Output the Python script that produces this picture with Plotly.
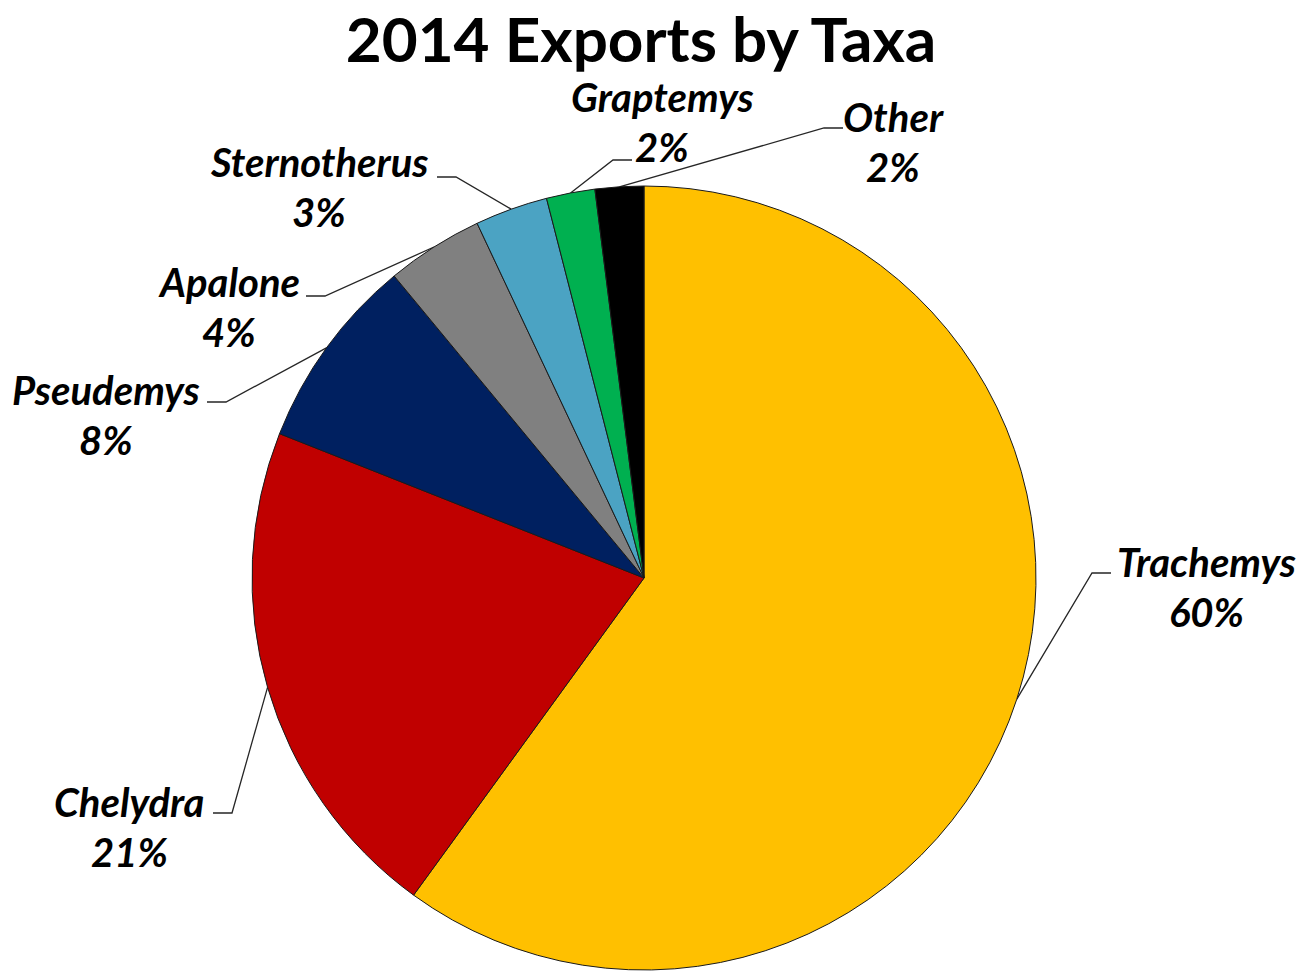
import math
import plotly.graph_objects as go

# Share of 2014 turtle exports by genus (percent)
taxa = ["Trachemys", "Chelydra", "Pseudemys", "Apalone", "Sternotherus", "Graptemys", "Other"]
shares = [60, 21, 8, 4, 3, 2, 2]
slice_colors = ["#FFC000", "#C00000", "#002060", "#808080", "#4BA3C3", "#00B050", "#000000"]

W, H = 1310, 971
CX, CY, R = 644, 578, 392          # pie centre and radius in pixels
FONT = "Lato, 'Open Sans', sans-serif"

# Where each label sits: text centre, end of the horizontal tick of the leader,
# and which side of the label the tick approaches from (+1 from left, -1 from right)
label_layout = {
    "Trachemys":    dict(tx=1206, ty=587, hx=1111, hy=573, side=+1),
    "Chelydra":     dict(tx=129,  ty=827, hx=213,  hy=813, side=-1),
    "Pseudemys":    dict(tx=106,  ty=415, hx=207,  hy=402, side=-1),
    "Apalone":      dict(tx=229,  ty=307, hx=306,  hy=296, side=-1),
    "Sternotherus": dict(tx=319,  ty=187, hx=437,  hy=177, side=-1),
    "Graptemys":    dict(tx=662,  ty=122, hx=632,  hy=160, side=+1),
    "Other":        dict(tx=893,  ty=142, hx=843,  hy=128, side=+1),
}
TICK = 19      # length of the horizontal tick at the label end
LINE_GAP = 25  # half the distance between name and percent lines

fig = go.Figure()

fig.add_trace(go.Pie(
    labels=taxa,
    values=shares,
    sort=False,
    direction="clockwise",
    rotation=0,
    marker=dict(colors=slice_colors, line=dict(color="#1a1a1a", width=1)),
    textinfo="none",
    hoverinfo="label+percent",
    showlegend=False,
    domain=dict(x=[(CX - R) / W, (CX + R) / W],
                y=[(H - CY - R) / H, (H - CY + R) / H]),
))

total = sum(shares)
cum = 0.0
annotations = []
for name, val in zip(taxa, shares):
    mid = (cum + val / 2) / total
    cum += val
    theta = 2 * math.pi * mid
    ax = CX + R * math.sin(theta)
    ay = CY - R * math.cos(theta)
    lay = label_layout[name]
    ex = lay["hx"] - lay["side"] * TICK
    fig.add_trace(go.Scatter(
        x=[ax, ex, lay["hx"]], y=[ay, lay["hy"], lay["hy"]],
        mode="lines", line=dict(color="#262626", width=1.3),
        hoverinfo="skip", showlegend=False,
    ))
    pct = f"{round(val / total * 100)}%"
    for txt, dy in ((name, -LINE_GAP), (pct, LINE_GAP)):
        annotations.append(dict(
            x=lay["tx"], y=lay["ty"] + dy, xref="x", yref="y",
            text=txt, showarrow=False, xanchor="center", yanchor="middle",
            font=dict(family=FONT, size=40, color="#000000",
                      weight="bold", style="italic"),
        ))

fig.update_layout(
    width=W, height=H, autosize=False,
    margin=dict(l=0, r=0, t=0, b=0),
    paper_bgcolor="#FFFFFF", plot_bgcolor="rgba(0,0,0,0)",
    title=dict(text="2014 Exports by Taxa", x=641 / W, xanchor="center",
               y=1 - 40 / H, yanchor="middle", yref="container",
               font=dict(family=FONT, size=62, color="#000000", weight="bold")),
    xaxis=dict(range=[0, W], visible=False, domain=[0, 1], fixedrange=True),
    yaxis=dict(range=[H, 0], visible=False, domain=[0, 1], fixedrange=True),
    annotations=annotations,
)

fig.write_html("out.html")
